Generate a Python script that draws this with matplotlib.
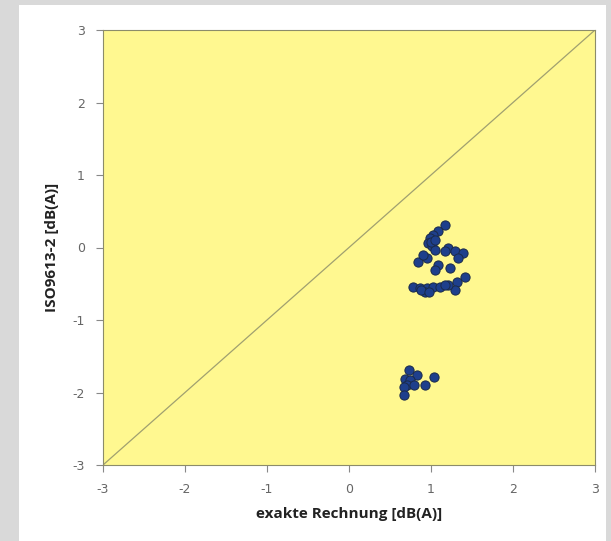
import matplotlib
matplotlib.use('Agg')
import matplotlib.pyplot as plt
from matplotlib.patches import Rectangle

plt.rcParams['axes.unicode_minus'] = False

# exakte Rechnung vs ISO9613-2, values in dB(A)
exact = [1.17, 1.09, 1.02, 0.99, 0.96, 1.01, 1.05, 1.21, 1.29, 1.39, 1.17,
         0.84, 0.95, 1.09, 1.23, 1.33, 1.05, 1.41, 1.32, 1.29, 1.21,
         0.78, 0.87, 0.95, 1.02, 1.11, 1.17, 0.93, 0.90, 1.00, 1.05, 0.88, 0.98,
         0.73, 0.83, 0.68, 0.74, 0.71, 0.67, 0.79, 0.67, 0.93, 1.04]
iso = [0.31, 0.23, 0.17, 0.13, 0.06, 0.02, -0.03, -0.01, -0.05, -0.08, -0.05,
       -0.20, -0.14, -0.24, -0.28, -0.14, -0.31, -0.41, -0.48, -0.59, -0.52,
       -0.54, -0.56, -0.56, -0.54, -0.54, -0.52, -0.61, -0.10, 0.08, 0.10, -0.58, -0.62,
       -1.69, -1.76, -1.81, -1.83, -1.90, -1.92, -1.90, -2.03, -1.90, -1.79]
lims = [-3, 3]
ticks = [-3, -2, -1, 0, 1, 2, 3]

fig = plt.figure(figsize=(6.11, 5.41), dpi=100, facecolor='#d9d9d9')
fig.patches.append(Rectangle((19 / 611, 0), 587 / 611, 536 / 541,
                             transform=fig.transFigure, facecolor='white',
                             edgecolor='none', zorder=-1))

ax = fig.add_axes([103 / 611, 1 - 465 / 541, 492 / 611, 435 / 541])
ax.set_facecolor('#fff890')
ax.plot(lims, lims, color='#a0a070', lw=0.9, zorder=1)
ax.scatter(exact, iso, s=44, color='#1e3f8c', edgecolors='#1a2a4a',
           linewidths=0.7, zorder=3)

ax.set_xlim(lims)
ax.set_ylim(lims)
ax.set_xticks(ticks)
ax.set_yticks(ticks)
for s in ax.spines.values():
    s.set_color('#8c8c6a')
ax.tick_params(colors='#888888', labelcolor='#666666', labelsize=9,
               length=5, width=0.8, pad=8)

ax.set_xlabel('exakte Rechnung [dB(A)]', family=['Open Sans', 'DejaVu Sans'],
              fontweight='bold', fontsize=11, color='#222222', labelpad=8)
ax.set_ylabel('ISO9613-2 [dB(A)]', family=['Open Sans', 'DejaVu Sans'],
              fontweight='bold', fontsize=11, color='#222222', labelpad=10)

fig.savefig('out.png', dpi=100, facecolor=fig.get_facecolor())
